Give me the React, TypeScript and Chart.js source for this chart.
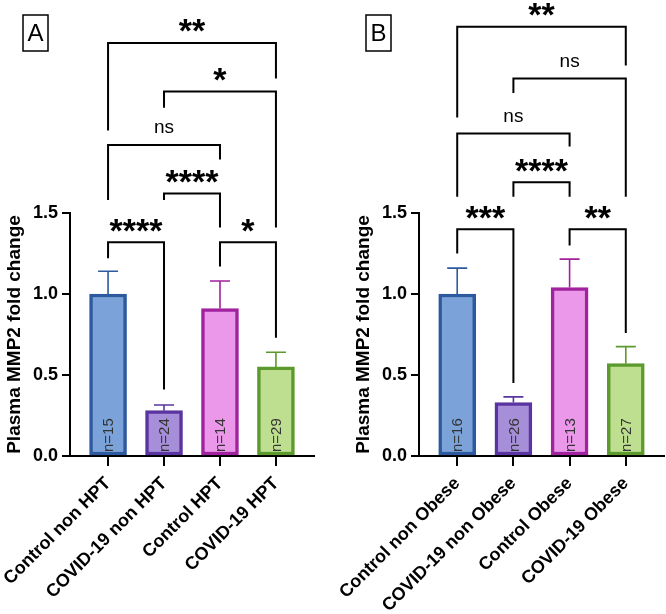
import React, { useEffect, useRef } from 'react';
import { Chart, registerables } from 'chart.js';

Chart.register(...registerables);

// panel A: hypertension groups
const hptCategories = ['Control non HPT', 'COVID-19 non HPT', 'Control HPT', 'COVID-19 HPT'];
const hptMeans = [1.0, 0.28, 0.91, 0.55];
const hptErrors = [0.14, 0.035, 0.17, 0.09];
const hptCounts = [15, 24, 14, 29];
// [from, to, line y, left leg end, right leg end, label]
const hptBrackets: [number, number, number, number, number, string][] = [
    [0, 1, 1.32, 1.22, 0.41, '****'],
    [2, 3, 1.32, 1.17, 0.73, '*'],
    [1, 2, 1.62, 1.58, 1.41, '****'],
    [0, 2, 1.92, 1.58, 1.83, 'ns'],
    [1, 3, 2.25, 2.15, 1.41, '*'],
    [0, 3, 2.55, 2.01, 2.33, '**'],
];

// panel B: obesity groups
const obeseCategories = ['Control non Obese', 'COVID-19 non Obese', 'Control Obese', 'COVID-19 Obese'];
const obeseMeans = [1.0, 0.33, 1.04, 0.57];
const obeseErrors = [0.16, 0.035, 0.175, 0.105];
const obeseCounts = [16, 26, 13, 27];
const obeseBrackets: [number, number, number, number, number, string][] = [
    [0, 1, 1.4, 1.25, 0.45, '***'],
    [2, 3, 1.4, 1.3, 0.76, '**'],
    [1, 2, 1.69, 1.6, 1.6, '****'],
    [0, 2, 1.99, 1.6, 1.91, 'ns'],
    [1, 3, 2.33, 2.24, 1.6, 'ns'],
    [0, 3, 2.65, 2.09, 2.41, '**'],
];

const yTicks = [0, 0.5, 1.0, 1.5];

const fills = ['#7ba3d9', '#a68ed8', '#eb97ea', '#bedf8f'];
const borders = ['#2d5a9e', '#5a34a0', '#a0229f', '#5d9a2d'];
const FONT = '"Liberation Sans", Arial, sans-serif';

interface PanelProps {
    letter: string;
    categories: string[];
    means: number[];
    errors: number[];
    counts: number[];
    brackets: [number, number, number, number, number, string][];
    padLeft: number;
    padRight: number;
    boxX: number;
}

const Panel = ({ letter, categories, means, errors, counts, brackets, padLeft, padRight, boxX }: PanelProps) => {
    const canvasRef = useRef<HTMLCanvasElement>(null);

    useEffect(() => {
        if (!canvasRef.current) return;

        const overlay = {
            id: 'overlay',
            afterDatasetsDraw(chart: Chart) {
                const ctx = chart.ctx;
                const x = chart.scales.x;
                const y = chart.scales.y;
                ctx.save();

                // error bars (upper only)
                means.forEach((m, i) => {
                    const cx = x.getPixelForValue(i);
                    const top = y.getPixelForValue(m + errors[i]);
                    ctx.strokeStyle = borders[i];
                    ctx.lineWidth = 1.6;
                    ctx.beginPath();
                    ctx.moveTo(cx, y.getPixelForValue(m));
                    ctx.lineTo(cx, top);
                    ctx.moveTo(cx - 10, top);
                    ctx.lineTo(cx + 10, top);
                    ctx.stroke();
                });

                // n labels inside bars
                ctx.fillStyle = '#333';
                ctx.font = `15px ${FONT}`;
                ctx.textAlign = 'left';
                ctx.textBaseline = 'middle';
                counts.forEach((n, i) => {
                    ctx.save();
                    ctx.translate(x.getPixelForValue(i), y.getPixelForValue(0) - 4);
                    ctx.rotate(-Math.PI / 2);
                    ctx.fillText(`n=${n}`, 0, 1);
                    ctx.restore();
                });

                // significance brackets
                ctx.strokeStyle = '#000';
                ctx.lineWidth = 2;
                ctx.lineJoin = 'miter';
                ctx.fillStyle = '#000';
                brackets.forEach(([a, b, ly, l1, l2, label]) => {
                    const xa = x.getPixelForValue(a);
                    const xb = x.getPixelForValue(b);
                    const py = y.getPixelForValue(ly);
                    ctx.beginPath();
                    ctx.moveTo(xa, y.getPixelForValue(l1));
                    ctx.lineTo(xa, py);
                    ctx.lineTo(xb, py);
                    ctx.lineTo(xb, y.getPixelForValue(l2));
                    ctx.stroke();

                    const isStar = label.startsWith('*');
                    ctx.font = isStar ? `bold 34px ${FONT}` : `19px ${FONT}`;
                    ctx.textAlign = 'center';
                    ctx.textBaseline = 'alphabetic';
                    const mt = ctx.measureText(label);
                    const mid = (mt.actualBoundingBoxAscent - mt.actualBoundingBoxDescent) / 2;
                    ctx.fillText(label, (xa + xb) / 2, py - 17 + mid);
                });

                // panel letter box
                ctx.lineWidth = 1.5;
                ctx.strokeRect(boxX, 15, 25, 36);
                ctx.font = `24px ${FONT}`;
                ctx.textAlign = 'center';
                ctx.textBaseline = 'middle';
                ctx.fillText(letter, boxX + 12.5, 34);
                ctx.restore();
            },
        };

        const tickFont = { family: FONT, size: 18, weight: 'bold' as const };

        const chart = new Chart(canvasRef.current, {
            type: 'bar',
            data: {
                datasets: [{
                    data: means.map((m, i) => ({ x: i, y: m })),
                    backgroundColor: fills,
                    borderColor: borders,
                    borderWidth: 3.5,
                    borderSkipped: false,
                    barThickness: 37,
                }],
            },
            options: {
                animation: false,
                responsive: true,
                maintainAspectRatio: false,
                layout: { padding: { top: 213, left: padLeft, right: padRight, bottom: 0 } },
                plugins: { legend: { display: false }, tooltip: { enabled: false } },
                scales: {
                    x: {
                        type: 'linear',
                        min: -0.68,
                        max: 3.68,
                        offset: false,
                        afterBuildTicks: (s: any) => { s.ticks = categories.map((_, i) => ({ value: i })); },
                        afterFit: (s: any) => { s.height = 158; s.paddingLeft = 0; s.paddingRight = 0; },
                        ticks: {
                            autoSkip: false,
                            minRotation: 45,
                            maxRotation: 45,
                            padding: 7,
                            color: '#000',
                            font: tickFont,
                            callback: (v: any) => categories[v as number],
                        },
                        grid: { offset: false, drawOnChartArea: false, tickLength: 10, lineWidth: 2, color: '#000' },
                        border: { color: '#000', width: 2 },
                    },
                    y: {
                        min: 0,
                        max: 1.5,
                        afterBuildTicks: (s: any) => { s.ticks = yTicks.map(v => ({ value: v })); },
                        afterFit: (s: any) => { s.width = 70; s.paddingTop = 0; s.paddingBottom = 0; },
                        ticks: {
                            padding: 4,
                            color: '#000',
                            font: tickFont,
                            callback: (v: any) => Number(v).toFixed(1),
                        },
                        grid: { drawOnChartArea: false, tickLength: 8, lineWidth: 2, color: '#000' },
                        border: { color: '#000', width: 2 },
                        title: {
                            display: true,
                            text: 'Plasma MMP2 fold change',
                            color: '#000',
                            padding: { top: 3, bottom: 0 },
                            font: { family: FONT, size: 19, weight: 'bold' },
                        },
                    },
                },
            },
            plugins: [overlay],
        });

        return () => chart.destroy();
    }, [letter, categories, means, errors, counts, brackets, padLeft, padRight, boxX]);

    return (
        <div style={{ position: 'relative', width: 333, height: 614 }}>
            <canvas ref={canvasRef}></canvas>
        </div>
    );
};

export default function App() {
    return (
        <div style={{ position: 'absolute', left: 0, top: 0, width: 666, height: 614, display: 'flex', background: '#fff' }}>
            <Panel letter="A" categories={hptCategories} means={hptMeans} errors={hptErrors} counts={hptCounts}
                brackets={hptBrackets} padLeft={0} padRight={19} boxX={23} />
            <Panel letter="B" categories={obeseCategories} means={obeseMeans} errors={obeseErrors} counts={obeseCounts}
                brackets={obeseBrackets} padLeft={16} padRight={2} boxX={33} />
        </div>
    );
}
